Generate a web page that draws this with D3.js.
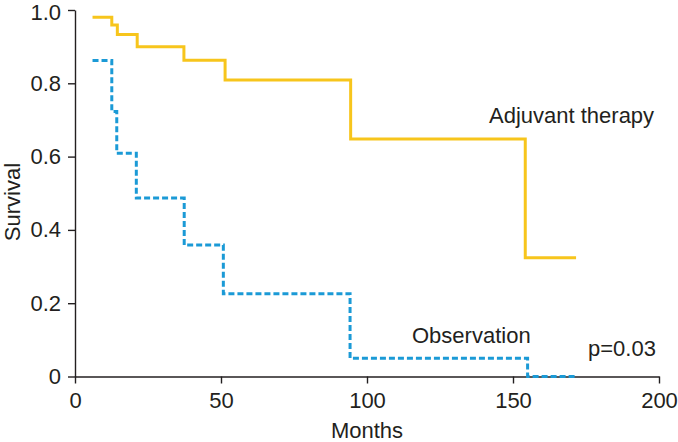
<!DOCTYPE html>
<html>
<head>
<meta charset="utf-8">
<script src="https://cdn.jsdelivr.net/npm/d3@7"></script>
<style>
  html, body { margin: 0; padding: 0; background: #fff; }
  svg { display: block; }
  text { font-family: "Liberation Sans", Arial, sans-serif; fill: #231f20; }
</style>
</head>
<body>
<svg id="chart" width="678" height="442"></svg>
<script>
// Kaplan-Meier step data (months, survival)
const adjuvantTimes = [6, 12.6, 14.5, 21.3, 37.3, 51.4, 94.4, 154.2, 171.6];
const adjuvantSurvival = [0.98, 0.959, 0.933, 0.90, 0.863, 0.809, 0.648, 0.324, 0.324];
const observationTimes = [6, 12.6, 14.3, 21.0, 37.4, 50.8, 94.2, 155.0, 171.2];
const observationSurvival = [0.862, 0.723, 0.609, 0.487, 0.359, 0.226, 0.05, 0, 0];
const xTicks = [0, 50, 100, 150, 200];
const yTicks = [0, 0.2, 0.4, 0.6, 0.8, 1.0];

const svg = d3.select("#chart");
const x = d3.scaleLinear().domain([0, 200]).range([75, 659]);
const y = d3.scaleLinear().domain([0, 1]).range([376.5, 10]);

const axisColor = "#231f20";

const xAxis = svg.append("g")
  .attr("transform", `translate(0,${y(0)})`)
  .call(d3.axisBottom(x).tickValues(xTicks).tickSize(7).tickSizeOuter(0).tickPadding(9).tickFormat(d3.format("d")));
const yAxis = svg.append("g")
  .attr("transform", `translate(${x(0)},0)`)
  .call(d3.axisLeft(y).tickValues(yTicks).tickSize(7).tickSizeOuter(0).tickPadding(7)
    .tickFormat(d => d === 0 ? "0" : d3.format(".1f")(d)));

[xAxis, yAxis].forEach(g => {
  g.selectAll("path, line").attr("stroke", axisColor).attr("stroke-width", 1.4);
  g.selectAll("text").attr("font-size", 22).attr("fill", axisColor)
    .style("font-family", '"Liberation Sans", Arial, sans-serif');
});
// keep the top label fully inside the picture
yAxis.selectAll(".tick text").filter(d => d === 1).attr("dy", "0.45em");

const line = d3.line().curve(d3.curveStepAfter).x(d => x(d[0])).y(d => y(d[1]));

svg.append("path")
  .datum(d3.zip(adjuvantTimes, adjuvantSurvival))
  .attr("d", line)
  .attr("fill", "none")
  .attr("stroke", "#f7c51c")
  .attr("stroke-width", 3);

svg.append("path")
  .datum(d3.zip(observationTimes, observationSurvival))
  .attr("d", line)
  .attr("fill", "none")
  .attr("stroke", "#1b9ad6")
  .attr("stroke-width", 3)
  .attr("stroke-dasharray", "6,3");

svg.append("text").attr("x", 489).attr("y", 123).attr("font-size", 22).text("Adjuvant therapy");
svg.append("text").attr("x", 412).attr("y", 343).attr("font-size", 22).text("Observation");
svg.append("text").attr("x", 588).attr("y", 356).attr("font-size", 22).text("p=0.03");

svg.append("text").attr("x", x(100)).attr("y", 438).attr("font-size", 22)
  .attr("text-anchor", "middle").text("Months");
svg.append("text").attr("transform", "translate(20,202) rotate(-90)").attr("font-size", 22)
  .attr("text-anchor", "middle").text("Survival");
</script>
</body>
</html>
